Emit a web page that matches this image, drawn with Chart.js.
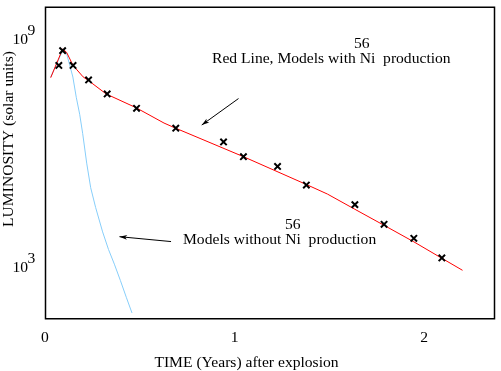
<!DOCTYPE html>
<html>
<head>
<meta charset="utf-8">
<script src="https://cdn.jsdelivr.net/npm/chart.js@4/dist/chart.umd.min.js"></script>
<style>
  html,body{margin:0;padding:0;background:#fff;overflow:hidden;}
  #wrap{width:501px;height:371px;position:relative;}
  canvas{display:block;}
</style>
</head>
<body>
<div id="wrap"><canvas id="c" width="501" height="371"></canvas></div>
<script>
// ---- data (time in years, luminosity in solar units) ----
const redTime  = [0.030, 0.093, 0.114, 0.148, 0.201, 0.232, 0.323, 0.480, 0.628, 0.690, 1.047, 1.379, 1.490, 1.635, 1.789, 1.946, 2.094, 2.203];
const redLum   = [9.5e7, 5.4e8, 4.4e8, 2.0e8, 1.0e8, 7.8e7, 3.55e7, 1.55e7, 6.1e6, 4.46e6, 7.98e5, 1.48e5, 8.3e4, 3.3e4, 1.25e4, 4.6e3, 1.7e3, 8.2e2];
const obsTime  = [0.073, 0.093, 0.148, 0.230, 0.328, 0.483, 0.690, 0.942, 1.047, 1.227, 1.379, 1.635, 1.789, 1.946, 2.094];
const obsLum   = [2.0e8, 4.9e8, 2.0e8, 8.3e7, 3.55e7, 1.49e7, 4.46e6, 1.94e6, 7.98e5, 4.41e5, 1.43e5, 4.37e4, 1.33e4, 5.68e3, 1.73e3];
const blueTime = [0.030, 0.058, 0.089, 0.102, 0.115, 0.131, 0.147, 0.165, 0.183, 0.199, 0.220, 0.241, 0.267, 0.304, 0.335, 0.366, 0.398, 0.429, 0.459];
const blueLum  = [9.9e7, 2.0e8, 4.4e8, 5.2e8, 3.9e8, 2.0e8, 9.9e7, 2.9e7, 1.04e7, 3.2e6, 5.4e5, 1.22e5, 3.7e4, 8.4e3, 2.9e3, 1.19e3, 4.4e2, 1.6e2, 62];
const xTickValues = [0, 1, 2];
const yTickExponents = [9, 3];
// annotation arrows in data coordinates: [tailTime, tailLum, headTime, headLum]
const arrowRed  = [1.021, 2.69e7, 0.827, 5.42e6];
const arrowBlue = [0.665, 4.67e3, 0.393, 6.28e3];

const pts = (xs, ys) => xs.map((x, i) => ({x: x, y: ys[i]}));
const SERIF = '"Liberation Serif", "DejaVu Serif", serif';

const overlay = {
  id: 'overlay',
  afterDraw(chart) {
    const ctx = chart.ctx, ca = chart.chartArea;
    const xs = chart.scales.x, ys = chart.scales.y;
    ctx.save();
    // frame
    ctx.strokeStyle = '#000';
    ctx.lineWidth = 1.5;
    ctx.strokeRect(ca.left + 0.5, ca.top + 0.75, ca.right - ca.left - 0.5, ca.bottom - ca.top);
    ctx.fillStyle = '#000';
    ctx.font = '15.6px ' + SERIF;
    ctx.textBaseline = 'alphabetic';
    // x tick labels
    ctx.textAlign = 'center';
    xTickValues.forEach(v => ctx.fillText(String(v), xs.getPixelForValue(v), 342));
    // y tick labels 10^n
    yTickExponents.forEach(e => {
      const py = ys.getPixelForValue(Math.pow(10, e));
      ctx.textAlign = 'right';
      ctx.fillText('10', 28, py + 5);
      ctx.textAlign = 'left';
      ctx.fillText(String(e), 27.5, py - 4);
    });
    // axis titles
    ctx.textAlign = 'center';
    ctx.fillText('TIME (Years) after explosion', 246.5, 367);
    ctx.save();
    ctx.translate(13, 139);
    ctx.rotate(-Math.PI / 2);
    ctx.fillText('LUMINOSITY (solar units)', 0, 0);
    ctx.restore();
    // annotations
    ctx.textAlign = 'left';
    ctx.fillText('56', 354, 48);
    ctx.fillText('Red Line, Models with Ni  production', 212, 63);
    ctx.fillText('56', 285, 229);
    ctx.fillText('Models without Ni  production', 183, 244);
    // arrows
    const drawArrow = (a) => {
      const x1 = xs.getPixelForValue(a[0]), y1 = ys.getPixelForValue(a[1]);
      const x2 = xs.getPixelForValue(a[2]), y2 = ys.getPixelForValue(a[3]);
      ctx.lineWidth = 1;
      ctx.beginPath(); ctx.moveTo(x1, y1); ctx.lineTo(x2, y2); ctx.stroke();
      const ang = Math.atan2(y2 - y1, x2 - x1), L = 8, W = 0.3;
      ctx.beginPath();
      ctx.moveTo(x2, y2);
      ctx.lineTo(x2 - L * Math.cos(ang - W), y2 - L * Math.sin(ang - W));
      ctx.lineTo(x2 - L * 0.7 * Math.cos(ang), y2 - L * 0.7 * Math.sin(ang));
      ctx.lineTo(x2 - L * Math.cos(ang + W), y2 - L * Math.sin(ang + W));
      ctx.closePath(); ctx.fill();
    };
    drawArrow(arrowRed);
    drawArrow(arrowBlue);
    ctx.restore();
  }
};

new Chart(document.getElementById('c'), {
  type: 'line',
  data: {
    datasets: [
      { label: 'obs', data: pts(obsTime, obsLum), showLine: false, pointStyle: 'crossRot',
        pointRadius: 4.5, pointBorderWidth: 2, pointBorderColor: '#000', pointBackgroundColor: '#000', order: 0 },
      { label: 'with Ni56', data: pts(redTime, redLum), borderColor: '#ff0000', borderWidth: 1,
        pointRadius: 0, tension: 0, fill: false, order: 1 },
      { label: 'without Ni56', data: pts(blueTime, blueLum), borderColor: '#87cefa', borderWidth: 1,
        pointRadius: 0, tension: 0, fill: false, order: 2 }
    ]
  },
  options: {
    responsive: false,
    animation: false,
    devicePixelRatio: 1,
    layout: { padding: { left: 45, top: 0, right: 3, bottom: 53 } },
    plugins: { legend: { display: false }, tooltip: { enabled: false } },
    scales: {
      x: { type: 'linear', min: 0, max: 2.3717, display: false },
      y: { type: 'logarithmic', min: Math.pow(10, 1.66), max: Math.pow(10, 9.85), display: false }
    }
  },
  plugins: [overlay]
});
</script>
</body>
</html>
